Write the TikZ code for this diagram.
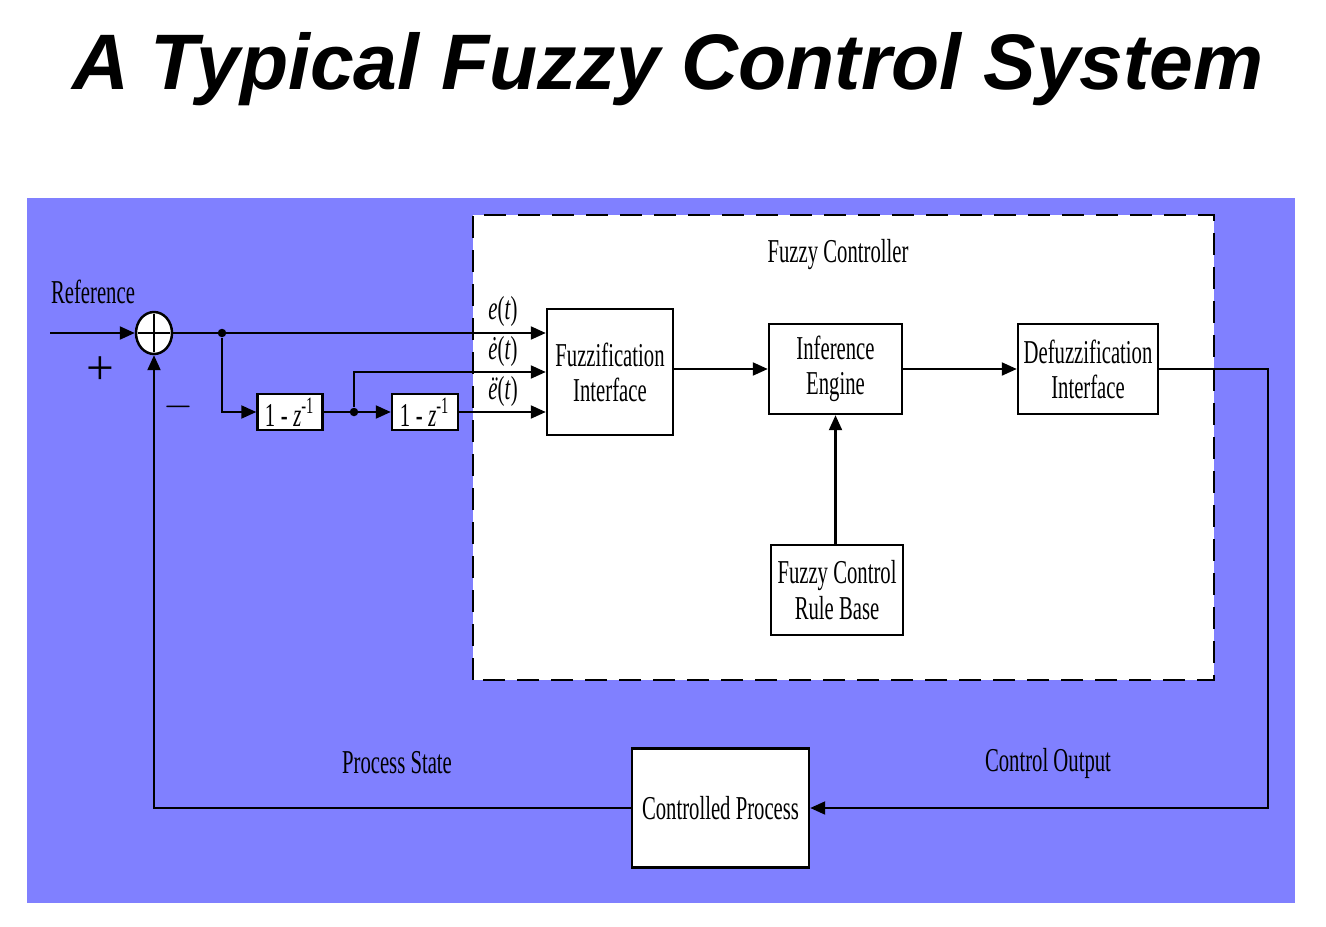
\documentclass[tikz,border=0pt]{standalone}
\usepackage{fontspec}
\setmainfont{Liberation Serif}
\newfontfamily\titlefont{Liberation Sans}
\newfontfamily\narrowfont[FakeStretch=0.62]{Liberation Serif}
\usetikzlibrary{positioning,arrows.meta,shapes.geometric}
\definecolor{panelblue}{RGB}{128,128,255}

\begin{document}
\begin{tikzpicture}[x=1cm,y=1cm,line width=0.6pt,
    >={Triangle[length=1.5mm,width=1.3mm]},
    block/.style={rectangle,draw,fill=white,line width=0.7pt,inner sep=1pt,
      align=center,font=\narrowfont\fontsize{9.5}{10}\selectfont},
    lbl/.style={font=\narrowfont\fontsize{9.5}{10}\selectfont},
    dot/.style={circle,fill,inner sep=0pt,minimum size=0.85mm}]
    \useasboundingbox (0,0) rectangle (13.26,9.26);
    \fill[white] (0,0) rectangle (13.26,9.26);
    % title and backgrounds
    \node (title) at (6.68,8.57) {\titlefont\bfseries\itshape\fontsize{22.4}{26}\selectfont A Typical Fuzzy Control System};
    \fill[panelblue] (0.27,0.23) rectangle (12.95,7.28);
    \draw[dashed,fill=white,line width=0.7pt,dash pattern=on 2.2mm off 1.2mm] (4.73,2.46) rectangle (12.14,7.11);
    \node[lbl] (fc) at (8.38,6.71) {Fuzzy Controller};

    % blocks
    \node[block,minimum width=1.26cm,minimum height=1.26cm] (fuzz) at (6.10,5.54) {Fuzzification\\Interface};
    \node[block,minimum width=1.33cm,minimum height=0.90cm] (infer) at (8.355,5.57) {Inference\\Engine};
    \node[block,minimum width=1.40cm,minimum height=0.90cm] (defuzz) at (10.88,5.57) {Defuzzification\\Interface};
    \node[block,minimum width=1.32cm,minimum height=0.90cm] (rules) at (8.37,3.36) {Fuzzy Control\\Rule Base};
    \node[block,minimum width=1.77cm,minimum height=1.19cm] (plant) at (7.205,1.18) {Controlled Process};
    \node[block,minimum width=0.65cm,minimum height=0.36cm] (diffa) at (2.90,5.14) {1\,-\,\textit{z}\textsuperscript{-1}};
    \node[block,minimum width=0.66cm,minimum height=0.36cm] (diffb) at (4.25,5.14) {1\,-\,\textit{z}\textsuperscript{-1}};
    \node[ellipse,draw,fill=white,line width=0.7pt,inner sep=0pt,minimum width=0.36cm,minimum height=0.42cm] (sum) at (1.54,5.93) {};
    \draw ([yshift=-0.3mm]sum.north) -- ([yshift=0.3mm]sum.south) ([xshift=0.3mm]sum.west) -- ([xshift=-0.3mm]sum.east);
    \node[dot] (dota) at (2.22,5.93) {};
    \node[dot] (dotb) at (3.54,5.14) {};
    \coordinate (in) at (0.50,5.93);
    \coordinate (turn) at (12.68,1.18);

    % labels
    \node[lbl] (ref) at (0.93,6.34) {Reference};
    \node[font=\fontsize{14}{14}\selectfont] (plus) at (1.00,5.55) {+};
    \node[font=\fontsize{11}{11}\selectfont] (minus) at (1.78,5.19) {$-$};
    \node[lbl] (et) at (5.03,6.15) {\textit{e}(\textit{t})};
    \node[lbl] (edt) at (5.03,5.75) {\textit{\.{e}}(\textit{t})};
    \node[lbl] (eddt) at (5.03,5.35) {\textit{\"{e}}(\textit{t})};
    \node[lbl] (ps) at (3.97,1.63) {Process State};
    \node[lbl] (co) at (10.48,1.63) {Control Output};

    % connectors
    \draw[->] (in) -- (sum);
    \draw[->] (sum) -- (sum -| fuzz.west);
    \draw[->] (dota) |- (diffa);
    \draw[->] (diffa) -- (diffb);
    \draw[->] (dotb) |- (fuzz.west);
    \draw[->] (diffb) -- (diffb -| fuzz.west);
    \draw[->] (fuzz.east |- infer) -- (infer);
    \draw[->] (infer) -- (defuzz);
    \draw[->] (rules.north -| infer) -- (infer);
    \draw[->] (defuzz.east) -| (turn) -- (plant.east);
    \draw[->] (plant.west) -| (sum.south);
\end{tikzpicture}
\end{document}
